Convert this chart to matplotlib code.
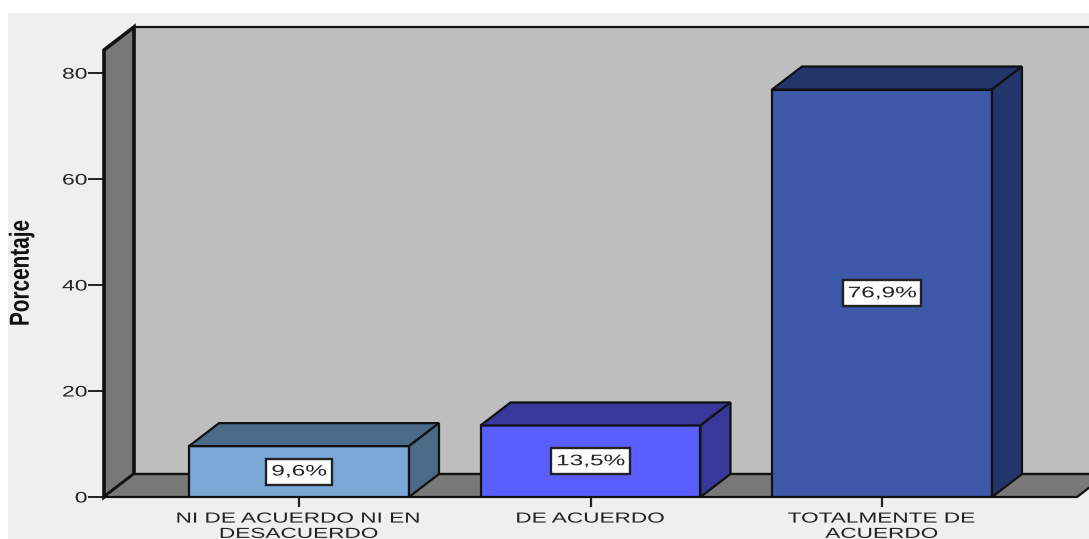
import matplotlib
matplotlib.use("Agg")
import matplotlib.pyplot as plt
from matplotlib.patches import Polygon, Rectangle
from matplotlib.patheffects import AbstractPathEffect
from matplotlib.transforms import Affine2D

# donnees
categories = ["NI DE ACUERDO NI EN\nDESACUERDO", "DE ACUERDO", "TOTALMENTE DE\nACUERDO"]
porcentajes = [9.6, 13.5, 76.9]
etiquettes = ["9,6%", "13,5%", "76,9%"]
y_ticks = [0, 20, 40, 60, 80]
couleurs_face = ["#7aa8d6", "#5a5eff", "#3e58a9"]
couleurs_cote = ["#4a6a88", "#38389c", "#24356b"]

W, H = 1089, 539
POLICE = "Liberation Sans"
ETIRE = 1.55  # le texte de l'original est tres large


class Etirer(AbstractPathEffect):
    """Etire le texte autour d'un point (en pixels), le texte reste un vrai texte"""

    def __init__(self, sx=1.0, sy=1.0, cx=0.0, cy=0.0):
        super().__init__()
        self.t = Affine2D().translate(-cx, -cy).scale(sx, sy).translate(cx, cy)

    def draw_path(self, renderer, gc, tpath, affine, rgbFace=None):
        renderer.draw_path(gc, tpath, affine + self.t, rgbFace)


fig = plt.figure(figsize=(W / 100, H / 100), dpi=100, facecolor="white")
fig.patches.append(Rectangle((8 / W, 0), 1, 1 - 13 / H, transform=fig.transFigure,
                             facecolor="#efefef", edgecolor="none", zorder=-10))

# axes en pixels de la figure
ax = fig.add_axes([104 / W, (H - 497) / H, (1077 - 104) / W, (497 - 27) / H])
ax.set_xlim(-0.669, 2.669)
ax.set_ylim(0, 88.7)
ax.patch.set_visible(False)
for s in ax.spines.values():
    s.set_visible(False)

# profondeur de l'effet 3D
dx = 30 / 291.5
dy = 23 / 5.3
xmin, xmax = ax.get_xlim()
ymax = ax.get_ylim()[1]
bord = "#111111"


def poly(points, couleur, z=1, lw=1.6):
    ax.add_patch(Polygon(points, closed=True, facecolor=couleur, edgecolor=bord,
                         linewidth=lw, zorder=z, clip_on=False))


# fond, mur gauche, sol
poly([(xmin + dx, dy), (xmax + dx, dy), (xmax + dx, ymax), (xmin + dx, ymax)], "#bebebe", 1)
poly([(xmin, 0), (xmin + dx, dy), (xmin + dx, ymax), (xmin, ymax - dy)], "#787878", 2, 2.6)
poly([(xmin, 0), (xmin + dx, dy), (xmax + dx, dy), (xmax, 0)], "#787878", 2)

# barres
largeur = 220 / 291.5
rendu = fig.canvas.get_renderer()
for i, v in enumerate(porcentajes):
    g, d = i - largeur / 2, i + largeur / 2
    ax.bar(i, v, width=largeur, color=couleurs_face[i], edgecolor=bord, linewidth=1.6, zorder=3)
    poly([(g, v), (g + dx, v + dy), (d + dx, v + dy), (d, v)], couleurs_cote[i], 3)
    poly([(d, 0), (d + dx, dy), (d + dx, v + dy), (d, v)], couleurs_cote[i], 3)
    cx, cy = ax.transData.transform((i, v / 2))
    t = ax.text(i, v / 2, etiquettes[i], ha="center", va="center", fontsize=11, color="#222222",
                family=POLICE, zorder=6)
    t.set_path_effects([Etirer(1.6, 1, cx, cy)])
    # boite blanche a la taille du texte etire
    larg_px = t.get_window_extent(rendu).width * 1.6 + 10
    ax.add_patch(Rectangle((i - larg_px / 2 / 291.5, v / 2 - 13 / 5.3), larg_px / 291.5, 26 / 5.3,
                           facecolor="white", edgecolor="#222222", linewidth=1.7, zorder=5))

ax.set_yticks(y_ticks)
ax.set_xticks(range(len(categories)))
ax.set_xticklabels(categories, fontsize=10.5, family=POLICE, color="#222222", linespacing=1.12)
ax.tick_params(axis="y", length=11.5, width=1.4, color="#222222", pad=0.5, labelsize=11, labelcolor="#222222")
ax.tick_params(axis="x", length=7, width=1.6, color="#222222", pad=3.5)
for t in ax.get_yticklabels():
    t.set_family(POLICE)
    t.set_path_effects([Etirer(1.5, 1, 87, 0)])
for i, t in enumerate(ax.get_xticklabels()):
    t.set_path_effects([Etirer(ETIRE, 1, ax.transData.transform((i, 0))[0], 0)])

yl = fig.text(21 / W, 1 - 273 / H, "Porcentaje", rotation=90, ha="center", va="center",
              fontsize=18, fontweight="bold", family=POLICE, color="#111111")
yl.set_path_effects([Etirer(1.1, 0.83, 21, H - 273)])

fig.savefig("out.png", dpi=100)
